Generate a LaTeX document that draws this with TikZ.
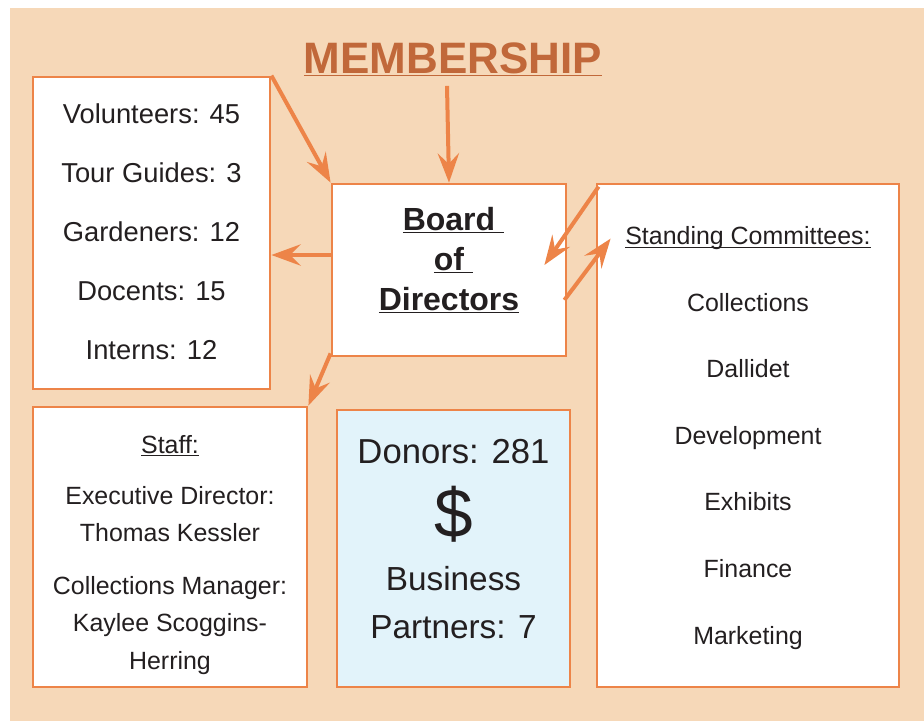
\documentclass[tikz,border=0pt]{standalone}
\usepackage{fontspec}
\setmainfont{Liberation Sans}
\usetikzlibrary{arrows.meta,calc}

\definecolor{peach}{RGB}{246,216,184}
\definecolor{rust}{RGB}{193,104,58}
\definecolor{tangerine}{RGB}{237,132,72}
\definecolor{icyblue}{RGB}{226,243,250}
\definecolor{ink}{RGB}{35,31,32}

% underline sitting just under the baseline
\newcommand{\undertext}[2][0.8pt]{\setbox0\hbox{#2}\rlap{\rule[-2.6pt]{\wd0}{#1}}\box0}

\tikzset{every picture/.style={line width=0.75pt}}
\tikzset{
  panel/.style={draw=tangerine, line width=2.1pt, fill=white, inner sep=0pt},
  link/.style={draw=tangerine, line width=3pt, -{Stealth[length=22pt,width=16pt,inset=8pt]}},
  caption/.style={text=ink, inner sep=0pt, align=center, anchor=base},
}

\begin{document}
\begin{tikzpicture}[x=0.75pt,y=0.75pt,yscale=-1,xscale=1]
\useasboundingbox (0,0) rectangle (924,721);

%Shape: Rectangle [background]
\fill[peach] (10,8) rectangle (924,721);

% Text Node [title]
\node[caption, text=rust, font=\fontsize{33}{36}\selectfont\bfseries] (title) at (453,73) {\undertext[1pt]{MEMBERSHIP}};

%Shape: Rectangle [helpers]
\node[panel, minimum width=177.75pt, minimum height=234pt] (helpers) at (151.5,233) {};
%Shape: Rectangle [board]
\node[panel, minimum width=175.5pt, minimum height=129pt] (board) at (449,270) {};
%Shape: Rectangle [committees]
\node[panel, minimum width=226.5pt, minimum height=377.25pt] (committees) at (748,435.5) {};
%Shape: Rectangle [staff]
\node[panel, minimum width=205.5pt, minimum height=210pt] (staff) at (170,547) {};
%Shape: Rectangle [donors]
\node[panel, fill=icyblue, minimum width=174.75pt, minimum height=207.75pt] (donors) at (453.5,548.5) {};

%Straight Lines [arrows]
\draw[link] ($(board.north |- title.south)+(-2,9)$) -- (board.north);
\draw[link] (helpers.north east) -- (board.north west);
\draw[link] ($(board.west)+(0,-15)$) -- ($(board.west -| helpers.east)+(0,-15)$);
\draw[link] ($(board.south west)+(0,-4)$) -- (staff.north east);
\draw[link] ($(committees.north west)+(3,4)$) -- ($(board.east)+(-23,-5)$);
\draw[link] ($(board.east)+(-3,30)$) -- ($(committees.north west)+(15,56)$);

% Text Node (anchored on the last line)
\node[caption, font=\fontsize{20.5}{44.25}\selectfont] (helpers-text) at (151.5,359)
  {Volunteers: 45\\Tour Guides: 3\\Gardeners: 12\\Docents: 15\\Interns: 12};
% Text Node
\node[caption, font=\fontsize{24}{30}\selectfont\bfseries] (board-text) at (449,310)
  {\undertext{Board}\rlap{\undertext{\ }}\\\undertext{of}\rlap{\undertext{\ }}\\\undertext{Directors}};
% Text Node
\node[caption, font=\fontsize{18.7}{49.9}\selectfont] (committees-text) at (748,644)
  {\undertext{Standing Committees:}\\Collections\\Dallidet\\Development\\Exhibits\\Finance\\Marketing};
% Text Node
\node[caption, font=\fontsize{18.7}{28}\selectfont] (staff-text) at (170,669)
  {\undertext{Staff:}\\[10.5pt]Executive Director:\\Thomas Kessler\\[11.5pt]Collections Manager:\\Kaylee Scoggins-\\Herring};
% Text Node
\node[caption, font=\fontsize{26}{36}\selectfont] (donor-count) at (453.5,463) {Donors: 281};
% Text Node
\node[caption, anchor=center, font=\fontsize{52}{56}\selectfont] (dollar) at (453.5,514) {\$};
% Text Node
\node[caption, font=\fontsize{25}{36}\selectfont] (partners) at (453.5,638) {Business\\Partners: 7};

\end{tikzpicture}
\end{document}
